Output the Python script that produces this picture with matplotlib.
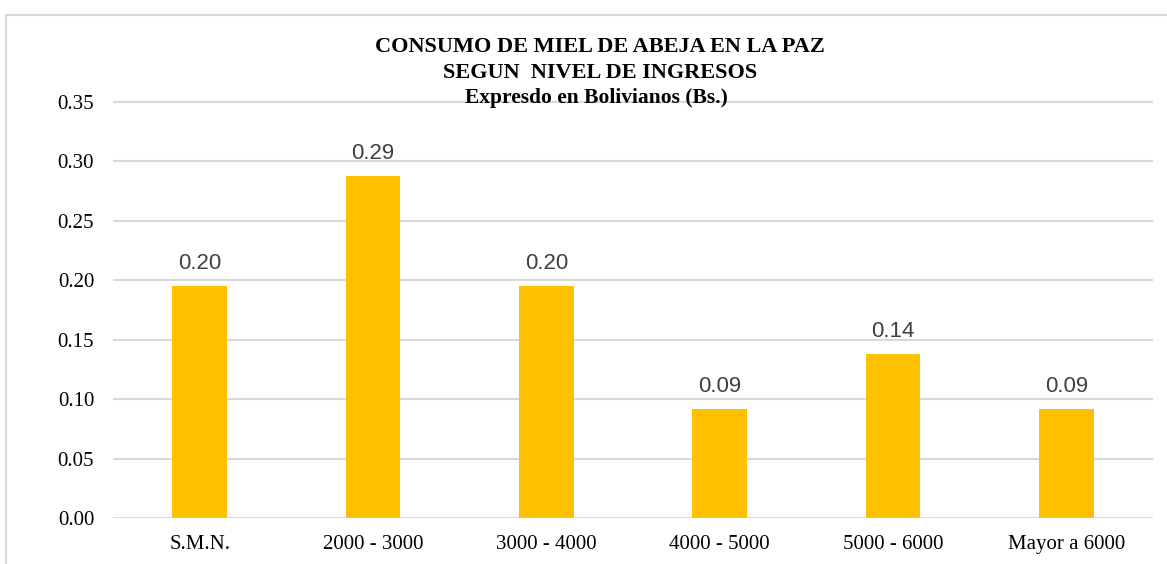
import matplotlib
matplotlib.use("Agg")
import matplotlib.pyplot as plt
from matplotlib.patches import Rectangle

categories = ["S.M.N.", "2000 - 3000", "3000 - 4000", "4000 - 5000", "5000 - 6000", "Mayor a 6000"]
values = [0.195, 0.288, 0.195, 0.092, 0.138, 0.092]
value_labels = ["0.20", "0.29", "0.20", "0.09", "0.14", "0.09"]
yticks = [0.00, 0.05, 0.10, 0.15, 0.20, 0.25, 0.30, 0.35]

W, H = 1167, 564
fig = plt.figure(figsize=(W / 100, H / 100), dpi=100)
fig.patch.set_facecolor("white")

# outer chart border
fig.add_artist(Rectangle((6 / W, -0.05), 1.2, 1 - 14.5 / H + 0.05, transform=fig.transFigure,
                         fill=False, edgecolor="#D9D9D9", linewidth=1.5))

ax = fig.add_axes([113 / W, 1 - 518 / H, (1153 - 113) / W, (518 - 100) / H])
x = list(range(len(categories)))
ax.bar(x, values, width=0.315, color="#FFC000", zorder=3)
ax.set_xlim(-0.5, len(categories) - 0.5)
ax.set_ylim(0, 0.35 * (418 / 416))

ax.set_yticks(yticks)
ax.set_yticklabels([f"{v:.2f}" for v in yticks], fontfamily="Liberation Serif", fontsize=15)
ax.set_xticks(x)
ax.set_xticklabels(categories, fontfamily="Liberation Serif", fontsize=15)
ax.tick_params(axis="both", length=0, colors="black")
ax.tick_params(axis="y", pad=13.5)
ax.tick_params(axis="x", pad=12.5)
for s in ax.spines.values():
    s.set_visible(False)
ax.yaxis.grid(True, color="#D9D9D9", linewidth=1.5, zorder=0)
ax.set_axisbelow(True)

for xi, v, lab in zip(x, values, value_labels):
    ax.annotate(lab, (xi, v), xytext=(0, 12), textcoords="offset pixels",
                ha="center", va="bottom", fontfamily="Liberation Sans", fontsize=16, color="#404040")

tx = 600 / W
fig.text(tx, 1 - 47.5 / H, "CONSUMO DE MIEL DE ABEJA EN LA PAZ", ha="center", va="center",
         fontfamily="Liberation Serif", fontweight="bold", fontsize=16)
fig.text(tx, 1 - 73.5 / H, "SEGUN  NIVEL DE INGRESOS", ha="center", va="center",
         fontfamily="Liberation Serif", fontweight="bold", fontsize=16)
fig.text(tx - 4 / W, 1 - 98 / H, "Expresdo en Bolivianos (Bs.)", ha="center", va="center",
         fontfamily="Liberation Serif", fontweight="bold", fontsize=15.5)

fig.savefig("out.png", dpi=100)
